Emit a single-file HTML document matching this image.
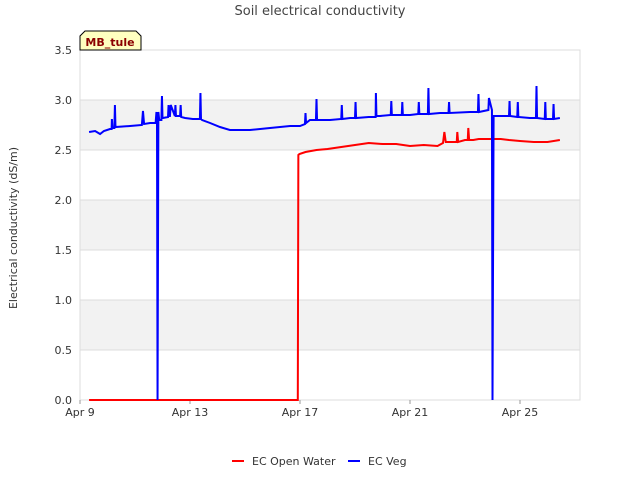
<!DOCTYPE html>
<html><head><meta charset="utf-8"><style>
body{margin:0;background:#fff;font-family:"Liberation Sans","DejaVu Sans",sans-serif;}
svg text{font-family:"DejaVu Sans","Liberation Sans",sans-serif;}
</style></head><body>
<svg id="c" width="640" height="480" xmlns="http://www.w3.org/2000/svg"></svg>
<script>
const xTickLabels=["Apr 9","Apr 13","Apr 17","Apr 21","Apr 25"];
const xTickDays=[0,4,8,12,16];
const yTicks=[0,0.5,1,1.5,2,2.5,3,3.5];
const seriesNames=["EC Open Water","EC Veg"];
const redDays=[0.33,7.92,7.94,7.98,8.2,8.4,8.6,9.0,9.5,10.0,10.5,11.0,11.5,12.0,12.5,13.0,13.2,13.25,13.3,13.7,13.72,13.75,14.0,14.1,14.12,14.15,14.3,14.5,15.0,15.3,15.6,16.0,16.5,17.0,17.45];
const redVals=[0,0,2.45,2.46,2.48,2.49,2.50,2.51,2.53,2.55,2.57,2.56,2.56,2.54,2.55,2.54,2.57,2.68,2.58,2.58,2.68,2.58,2.60,2.60,2.72,2.60,2.60,2.61,2.61,2.61,2.60,2.59,2.58,2.58,2.60];
const blueDays=[0.33,0.55,0.73,0.87,1.09,1.15,1.16,1.18,1.25,1.27,1.29,1.82,2.25,2.29,2.33,2.55,2.75,2.78,2.80,2.82,2.85,2.88,2.91,2.96,2.98,3.0,3.02,3.2,3.22,3.24,3.27,3.3,3.45,3.47,3.49,3.64,3.66,3.68,3.82,4.1,4.36,4.38,4.4,4.44,4.73,5.09,5.45,5.82,6.18,6.91,7.64,8.0,8.18,8.2,8.22,8.36,8.58,8.6,8.62,9.09,9.5,9.52,9.54,9.82,10.0,10.02,10.04,10.5,10.75,10.76,10.78,10.91,11.3,11.32,11.34,11.7,11.72,11.74,12.0,12.3,12.32,12.34,12.65,12.67,12.69,13.09,13.4,13.42,13.44,14.18,14.47,14.49,14.51,14.85,14.87,14.98,15.0,15.04,15.05,15.27,15.6,15.62,15.64,15.9,15.92,15.94,16.36,16.58,16.6,16.62,16.9,16.92,16.94,17.2,17.22,17.24,17.45];
const blueVals=[2.68,2.69,2.66,2.69,2.71,2.71,2.81,2.72,2.72,2.95,2.73,2.74,2.75,2.89,2.76,2.77,2.77,2.88,2.77,0,2.88,2.80,2.80,2.80,3.04,2.82,2.82,2.83,2.95,2.84,2.84,2.95,2.84,2.95,2.84,2.84,2.95,2.83,2.82,2.81,2.81,3.07,2.81,2.80,2.77,2.73,2.70,2.70,2.70,2.72,2.74,2.74,2.76,2.87,2.77,2.80,2.80,3.01,2.80,2.80,2.81,2.95,2.81,2.82,2.82,2.98,2.82,2.83,2.83,3.07,2.84,2.84,2.85,2.99,2.85,2.85,2.98,2.85,2.85,2.86,2.98,2.86,2.86,3.12,2.86,2.87,2.87,2.98,2.87,2.88,2.88,3.06,2.88,2.90,3.02,2.90,0,2.84,2.84,2.84,2.84,2.99,2.84,2.83,2.98,2.83,2.82,2.82,3.14,2.82,2.81,2.98,2.81,2.81,2.96,2.81,2.82];
const L=80,R=580,T=50,B=400;
const xs=d=>L+d*27.5, ys=v=>B-v*100;
const svg=document.getElementById('c');const NS="http://www.w3.org/2000/svg";
function mk(t,a,p){const e=document.createElementNS(NS,t);for(const k in a)e.setAttribute(k,a[k]);(p||svg).appendChild(e);return e;}
for(let i=1;i<yTicks.length-1;i+=2){const r=mk('rect',{x:L,y:ys(yTicks[i+1]),width:R-L,height:ys(yTicks[i])-ys(yTicks[i+1]),fill:'#f2f2f2'});

}
yTicks.forEach(v=>{const g=mk('line',{x1:L,x2:R,y1:ys(v),y2:ys(v),stroke:'#dcdcdc'});


const t=mk('text',{x:L-8,y:ys(v)+4,'text-anchor':'end','font-size':11,fill:'#333'});t.textContent=v.toFixed(1);

});
mk('rect',{x:L,y:T,width:R-L,height:B-T,fill:'none',stroke:'#dcdcdc'});
xTickDays.forEach((d,i)=>{const t=mk('text',{x:xs(d),y:416,'text-anchor':'middle','font-size':11,fill:'#333'});t.textContent=xTickLabels[i];


mk('line',{x1:xs(d),x2:xs(d),y1:B,y2:B+4,stroke:'#999'});});
function line(days,vals,color,name){const p=mk('polyline',{points:days.map((d,i)=>xs(d)+','+ys(vals[i])).join(' '),fill:'none',stroke:color,'stroke-width':2});

}
line(redDays,redVals,'#ff0000','ec-open-water-line');
line(blueDays,blueVals,'#0000ff','ec-veg-line');
const title=mk('text',{x:320,y:15,'text-anchor':'middle','font-size':13,fill:'#444'});title.textContent='Soil electrical conductivity';


const yt=mk('text',{x:17,y:228,'text-anchor':'middle','font-size':11,fill:'#333',transform:'rotate(-90 17 228)'});yt.textContent='Electrical conductivity (dS/m)';


const tag=mk('path',{d:'M80,50 L80,36 L85,31 L136,31 L141,36 L141,50 Z',fill:'#ffffc0',stroke:'#000'});


const tt=mk('text',{x:110,y:46,'text-anchor':'middle','font-size':11,'font-weight':'bold',fill:'#8b0000'});tt.textContent='MB_tule';


const lx=[232,348],cols=['#ff0000','#0000ff'];
seriesNames.forEach((n,i)=>{const g=mk('g',{});


mk('line',{x1:lx[i],x2:lx[i]+12,y1:461,y2:461,stroke:cols[i],'stroke-width':2},g);
const t=mk('text',{x:lx[i]+20,y:465,'font-size':11,fill:'#333'},g);t.textContent=n;});
</script>
</body></html>
